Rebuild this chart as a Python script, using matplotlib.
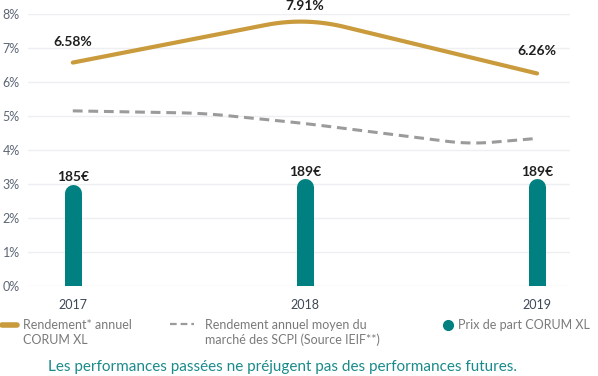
import numpy as np
import matplotlib
matplotlib.use("Agg")
import matplotlib.pyplot as plt
from matplotlib.lines import Line2D

plt.rcParams['font.family'] = ['Lato', 'DejaVu Sans']

# data
years = [2017, 2018, 2019]
rendement = [6.58, 7.91, 6.26]
rendement_labels = ['6.58%', '7.91%', '6.26%']
marche_x = [2017, 2017.56, 2018, 2018.71, 2019]
marche = [5.16, 5.09, 4.79, 4.18, 4.35]
prix = [185, 189, 189]
prix_labels = ['185€', '189€', '189€']
y_ticks = [0, 1, 2, 3, 4, 5, 6, 7, 8]
y_tick_labels = ['0%', '1%', '2%', '3%', '4%', '5%', '6%', '7%', '8%']

GOLD = '#c99b3d'
TEAL = '#008080'
GREY = '#9b9b9b'
W, H = 598, 376


def px(x, y):
    # pixel (from top-left) -> figure fraction
    return x / W, 1 - y / H


def rounded(x, y, d=0.17, n=30):
    # polyline with soft (quadratic bezier) corners, for drawing only
    P = np.column_stack([x, y]).astype(float)
    out = [P[0]]
    for i in range(1, len(P) - 1):
        a, v, c = P[i - 1], P[i], P[i + 1]
        fa = min(d / (v[0] - a[0]), 0.45)
        fc = min(d / (c[0] - v[0]), 0.45)
        A = v + fa * (a - v)
        C = v + fc * (c - v)
        t = np.linspace(0, 1, n)[:, None]
        out.extend((1 - t) ** 2 * A + 2 * (1 - t) * t * v + t ** 2 * C)
    out.append(P[-1])
    out = np.array(out)
    return out[:, 0], out[:, 1]


fig = plt.figure(figsize=(W / 100, H / 100), dpi=100)
l, b = px(28, 286.3)
r, t = px(570, 14.3)
ax = fig.add_axes([l, b, r - l, t - b])
ax.set_xlim(2016.807, 2019.142)
ax.set_ylim(0, 8)

for s in ax.spines.values():
    s.set_visible(False)
ax.set_yticks(y_ticks)
ax.set_yticklabels(y_tick_labels, fontsize=9, color='#5c6675')
ax.set_xticks(years)
ax.set_xticklabels([str(y) for y in years], fontsize=9, color='#3f4857')
ax.tick_params(length=0)
ax.tick_params(axis='y', pad=6)
ax.tick_params(axis='x', pad=9)
ax.grid(axis='y', color='#eeeff2', lw=1)
ax.set_axisbelow(True)

# price bars on their own scale
ax2 = ax.twinx()
ax2.set_ylim(110, 310)
ax2.axis('off')
bar_px = 17
fig.canvas.draw()
unit_px = ax2.transData.transform((0, 1))[1] - ax2.transData.transform((0, 0))[1]
cap = (bar_px / 2) / unit_px
for x, p, lab in zip(years, prix, prix_labels):
    ax2.plot([x, x], [0, p - cap], color=TEAL, lw=bar_px * 0.72,
             solid_capstyle='round', zorder=2)
    ax2.annotate(lab, (x, p), xytext=(0, 5), textcoords='offset points',
                 ha='center', va='center', fontsize=10, fontweight='bold', color='#1e1e1e')

# lines
mx, my = rounded(marche_x, marche, d=0.1)
ax.plot(mx, my, color=GREY, lw=2.2, dashes=(3.2, 1.9), zorder=3)
rx, ry = rounded(years, rendement, d=0.17)
ax.plot(rx, ry, color=GOLD, lw=3, solid_capstyle='round', zorder=4)
offsets = [15, 8, 16.5]
for x, v, lab, off in zip(years, rendement, rendement_labels, offsets):
    ax.annotate(lab, (x, v), xytext=(0, off), textcoords='offset points',
                ha='center', va='center', fontsize=10, fontweight='bold',
                color='#1e1e1e', annotation_clip=False)

# legend
fig.add_artist(Line2D(*zip(px(2, 325), px(17, 325)), color=GOLD, lw=4,
                      solid_capstyle='round', transform=fig.transFigure))
fig.text(*px(23, 332.5), "Rendement* annuel\nCORUM XL", fontsize=9,
         color='#7a7a7a', va='center', ha='left', linespacing=1.25)
fig.add_artist(Line2D(*zip(px(170, 324), px(194, 324)), color=GREY, lw=1.6,
                      dashes=(3, 1.8), transform=fig.transFigure))
fig.text(*px(205, 332.5), "Rendement annuel moyen du\nmarché des SCPI (Source IEIF**)",
         fontsize=9, color='#7a7a7a', va='center', ha='left', linespacing=1.25)
fig.add_artist(Line2D([px(448, 325)[0]], [px(448, 325)[1]], marker='o', ms=7,
                      color=TEAL, lw=0, transform=fig.transFigure))
fig.text(*px(458, 325), "Prix de part CORUM XL", fontsize=9, color='#7a7a7a',
         va='center', ha='left')

fig.text(*px(283, 367), "Les performances passées ne préjugent pas des performances futures.",
         fontsize=11, color='#1a8a8a', ha='center', va='center')

fig.savefig('out.png', dpi=100)
